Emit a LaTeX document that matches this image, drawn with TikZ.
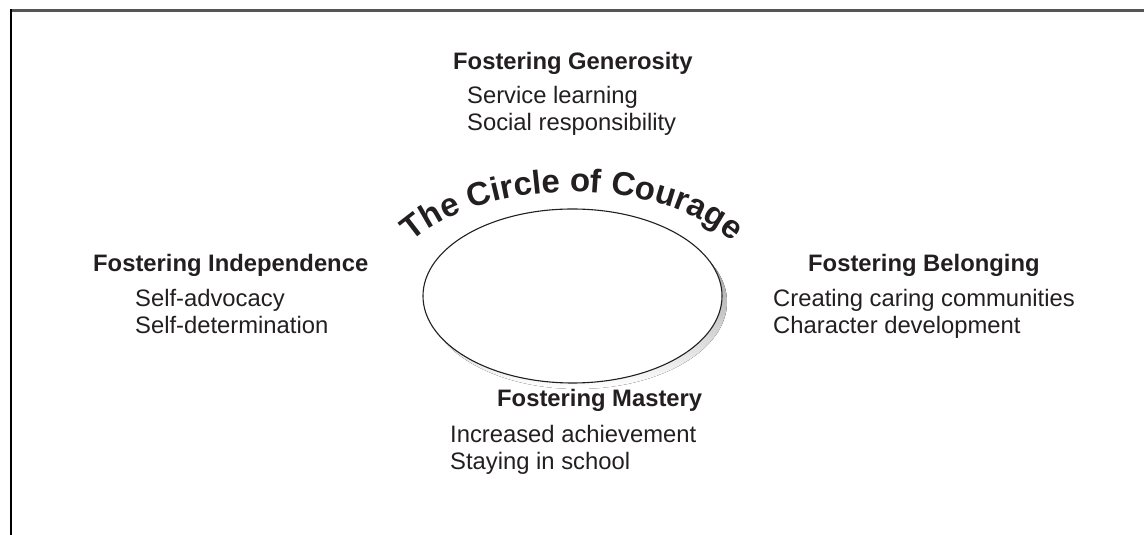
\documentclass[tikz,border=0pt]{standalone}
\usepackage{fontspec}
\setmainfont{Liberation Sans}
\usetikzlibrary{calc,decorations.text}

\definecolor{ink}{HTML}{231F20}
\definecolor{rulegray}{HTML}{555555}
\definecolor{shade}{HTML}{C8C8CA}

\tikzset{
  head/.style={anchor=base west, inner sep=0pt, text=ink,
    font=\bfseries\fontsize{23.8}{27}\selectfont},
  item/.style={anchor=base west, inner sep=0pt, text=ink,
    font=\fontsize{23.8}{27}\selectfont},
}

\begin{document}
\begin{tikzpicture}[x=1pt,y=1pt]
  \useasboundingbox (0,0) rectangle (1144,535);

  % frame, open at the bottom and right
  \draw[rulegray, line width=2.2] (10,524.5) -- (1144,524.5);
  \draw[black, line width=1.6] (10.8,525.6) -- (10.8,0);

  % the circle with its shadow
  \coordinate (hub) at (572.5,239);
  \fill[shade] ($(hub)+(5,-6)$) ellipse [x radius=149.5, y radius=87];
  \draw[ink, fill=white, line width=1.1] (hub) ellipse [x radius=149.5, y radius=87];

  % title bent over the circle
  \path[decorate, decoration={text along path, text align=center,
      text={|\bfseries\fontsize{33}{33}\selectfont\color{ink}|The Circle of Courage}}]
    ($(hub)+(153:188 and 104)$) arc [start angle=153, end angle=27,
      x radius=188, y radius=104];

  % top
  \node[head] (gen) at (453,465) {Fostering Generosity};
  \node[item] (gen1) at (467,431) {Service learning};
  \node[item] (gen2) at (467,404) {Social responsibility};

  % left
  \node[head] (ind) at (93,263) {Fostering Independence};
  \node[item] (ind1) at (135,228) {Self-advocacy};
  \node[item] (ind2) at (135,201) {Self-determination};

  % right
  \node[head] (bel) at (808,263) {Fostering Belonging};
  \node[item] (bel1) at (773,228) {Creating caring communities};
  \node[item] (bel2) at (773,201) {Character development};

  % bottom
  \node[head] (mas) at (497,128) {Fostering Mastery};
  \node[item] (mas1) at (450,92) {Increased achievement};
  \node[item] (mas2) at (450,65) {Staying in school};
\end{tikzpicture}
\end{document}
